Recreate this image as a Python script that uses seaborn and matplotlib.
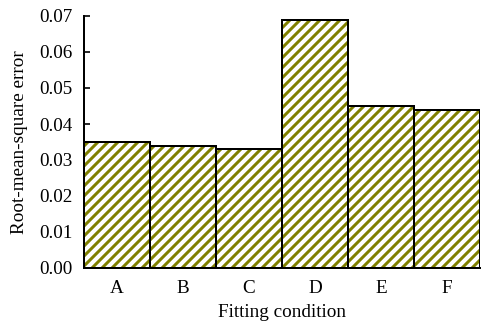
import matplotlib
matplotlib.use("Agg")
import matplotlib.pyplot as plt
import seaborn as sns

categories = ["A", "B", "C", "D", "E", "F"]
rmse = [0.035, 0.034, 0.033, 0.069, 0.045, 0.044]
yticks = [0.00, 0.01, 0.02, 0.03, 0.04, 0.05, 0.06, 0.07]

sns.set_style("white")
plt.rcParams["font.family"] = ["Liberation Serif", "DejaVu Serif"]
plt.rcParams["hatch.linewidth"] = 3.6
plt.rcParams["text.color"] = "black"
plt.rcParams["axes.labelcolor"] = "black"

DPI = 60
fig = plt.figure(figsize=(481 / DPI, 327 / DPI), dpi=DPI)
ax = fig.add_axes([84 / 481, 59 / 327, (480 - 84) / 481, (268 - 16) / 327])

sns.barplot(x=categories, y=rmse, width=1.0, color="white",
            edgecolor="#808000", hatch="//", linewidth=0, ax=ax)
sns.barplot(x=categories, y=rmse, width=1.0, color="black", fill=False,
            linewidth=2.4, ax=ax)

ax.set_xlim(-0.5, 5.5)
ax.set_ylim(0, 0.07)
ax.set_yticks(yticks)
ax.set_yticklabels([f"{v:.2f}" for v in yticks])
for s in ["top", "right"]:
    ax.spines[s].set_visible(False)
for s in ["left", "bottom"]:
    ax.spines[s].set_linewidth(2.4)
    ax.spines[s].set_color("black")
ax.tick_params(axis="y", direction="in", length=7, width=2.0, left=True,
               labelsize=23, pad=14, colors="black")
ax.tick_params(axis="x", length=0, labelsize=23, pad=14, colors="black")
ax.set_xlabel("Fitting condition", fontsize=23, labelpad=9, color="black")
ax.set_ylabel("Root-mean-square error", fontsize=23, labelpad=13, color="black")

fig.savefig("out.png", dpi=DPI)
